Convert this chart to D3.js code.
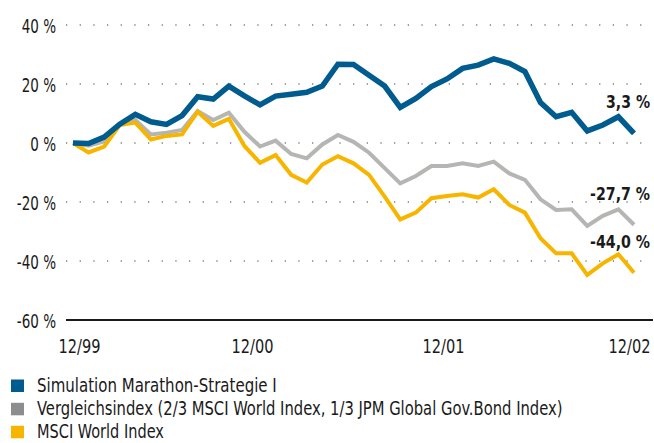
<!DOCTYPE html>
<html><head><meta charset="utf-8">
<script src="https://cdn.jsdelivr.net/npm/d3@7"></script>
<style>
html,body{margin:0;padding:0;background:#fff;}
svg{display:block;}
text{font-family:'DejaVu Sans Condensed','Liberation Sans Narrow',sans-serif;fill:#1a1a1a;}
</style></head><body>
<svg id="c" width="654" height="443"></svg>
<script>
// ---- data (monthly, 12/99 .. 12/02), cumulative performance in %
const months = d3.range(37); // 0 = 12/99, 36 = 12/02
const marathon = [0,-0.2,2,6.4,9.7,7.2,6.3,9.3,15.7,14.9,19.3,16,12.9,15.9,16.5,17.2,19.3,26.7,26.6,23,19.3,12.1,15.1,19.1,21.7,25.3,26.4,28.5,27,24.2,13.7,8.9,10.4,4.1,6.1,8.9,3.3];
const vergleich = [0,-0.9,0.5,6.4,7.8,2.9,3.5,4.4,10.8,7.8,10.3,3.8,-1.2,0.8,-3.7,-5.2,-0.5,2.7,0.4,-3.3,-8.5,-13.7,-11.2,-7.8,-7.8,-6.9,-7.8,-6.3,-10.3,-12.5,-19.1,-22.7,-22.5,-28.1,-24.7,-22.5,-27.7];
const msci = [0,-3.2,-1.2,6.1,6.9,1.2,2.4,2.9,10.6,5.8,8.2,-1,-6.7,-4.1,-10.8,-13.4,-7.3,-4.5,-6.9,-10.8,-18.2,-25.9,-23.6,-18.7,-18,-17.4,-18.5,-15.7,-21,-23.6,-32.3,-37.4,-37.4,-44.7,-40.8,-37.7,-44.0];
const yTicks = [-60,-40,-20,0,20,40];
const xTickIdx = [0,12,24,36];
const xTickLabels = ["12/99","12/00","12/01","12/02"];
const seriesNames = ["Simulation Marathon-Strategie I","Vergleichsindex (2/3 MSCI World Index, 1/3 JPM Global Gov.Bond Index)","MSCI World Index"];
const endLabels = ["3,3 %","-27,7 %","-44,0 %"];
const colors = {marathon:"#005b8f", vergleich:"#b5b5b3", msci:"#f7b500", legendGray:"#8b8d8f"};

const svg = d3.select("#c");
const x = d3.scaleLinear().domain([0,36]).range([73,634]);
const y = d3.scaleLinear().domain([-60,40]).range([320,25]);

// condense text horizontally (emulates the condensed typeface of the original)
function squeeze(sel, widthFn){
  sel.each(function(d,i){
    const t = d3.select(this);
    const w = this.getComputedTextLength();
    const sx = widthFn(w,i)/w;
    const X = +t.attr("x")||0, Y = +t.attr("y")||0;
    t.attr("x",0).attr("y",0).attr("transform",`translate(${X},${Y}) scale(${sx},1)`);
  });
}

// gridlines (dotted)
const grid = svg.append("g");
grid.selectAll("line").data(yTicks.filter(v=>v>-60)).join("line")
  .attr("x1",66).attr("x2",642).attr("y1",d=>y(d)).attr("y2",d=>y(d))
  .attr("stroke","#333").attr("stroke-width",1.2).attr("stroke-dasharray","1.2 12.47");

// baseline axis
svg.append("line").attr("x1",66).attr("x2",653).attr("y1",y(-60)).attr("y2",y(-60))
  .attr("stroke","#1a1a1a").attr("stroke-width",2);

// y axis labels
const yAxis = d3.axisLeft(y).tickValues(yTicks).tickSize(0).tickPadding(0)
  .tickFormat(d=>d+" %");
const ya = svg.append("g").attr("transform","translate(56,0)").call(yAxis);
ya.select(".domain").remove();
ya.selectAll("text").attr("font-size",19).attr("dy","0.37em").attr("fill","#1a1a1a")
  .style("font-family","'DejaVu Sans Condensed','Liberation Sans Narrow',sans-serif");
squeeze(ya.selectAll("text"), w=>w*0.79);

// x axis labels
const xAxis = d3.axisBottom(x).tickValues(xTickIdx).tickSize(0).tickPadding(0)
  .tickFormat((d,i)=>xTickLabels[i]);
const xa = svg.append("g").attr("transform","translate(0,353)").call(xAxis);
xa.select(".domain").remove();
xa.selectAll("text").attr("font-size",19).attr("dy",0).attr("y",0).attr("fill","#1a1a1a")
  .style("font-family","'DejaVu Sans Condensed','Liberation Sans Narrow',sans-serif");
// label placement as in the reference (last one kept inside the picture)
const xShift = {0:6, 12:-8, 24:-4};
xa.selectAll(".tick text").attr("x",d=>d===36 ? 650-x(36) : xShift[d])
  .attr("text-anchor",d=>d===36 ? "end" : "middle");
squeeze(xa.selectAll(".tick text"), ()=>42);

// lines
const line = d3.line().x((d,i)=>x(months[i])).y(d=>y(d));
svg.append("path").datum(vergleich).attr("d",line).attr("fill","none")
  .attr("stroke",colors.vergleich).attr("stroke-width",4).attr("stroke-linejoin","miter");
svg.append("path").datum(msci).attr("d",line).attr("fill","none")
  .attr("stroke",colors.msci).attr("stroke-width",4).attr("stroke-linejoin","miter");
svg.append("path").datum(marathon).attr("d",line).attr("fill","none")
  .attr("stroke",colors.marathon).attr("stroke-width",5.5).attr("stroke-linejoin","miter");

// end labels
const endY = [108,200,248];
const endW = [44,60,60];
const el = svg.selectAll("text.end").data(endLabels).join("text").attr("class","end")
  .attr("x",650).attr("y",(d,i)=>endY[i]).attr("text-anchor","end")
  .attr("font-size",18).attr("font-weight","bold").text(d=>d);
squeeze(el, (w,i)=>endW[i]);

// legend
const legColors = [colors.marathon, colors.legendGray, colors.msci];
const legBase = [392,415.3,438.3];
const legW = [240,526,127];
const leg = svg.append("g");
leg.selectAll("rect").data(seriesNames).join("rect")
  .attr("x",11).attr("y",(d,i)=>legBase[i]-12.5).attr("width",13).attr("height",12.5)
  .attr("fill",(d,i)=>legColors[i]);
const lt = leg.selectAll("text").data(seriesNames).join("text")
  .attr("x",37).attr("y",(d,i)=>legBase[i]).attr("font-size",20).text(d=>d);
squeeze(lt, (w,i)=>legW[i]);
</script></body></html>
